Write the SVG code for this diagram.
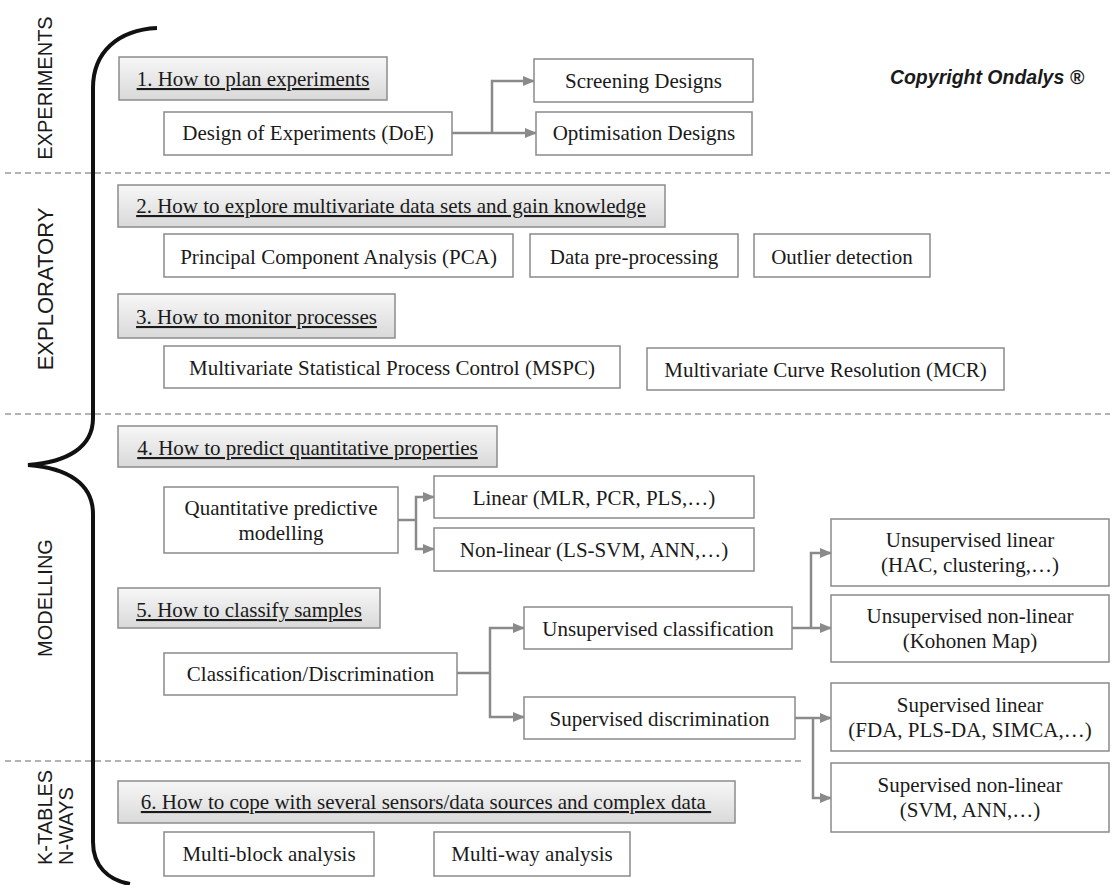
<svg xmlns="http://www.w3.org/2000/svg" width="1112" height="885" viewBox="0 0 1112 885">
<defs>
<linearGradient id="hg" x1="0" y1="0" x2="0" y2="1">
<stop offset="0" stop-color="#f7f7f7"/>
<stop offset="1" stop-color="#d9d9d9"/>
</linearGradient>
<marker id="ah" viewBox="0 0 12 10" refX="11" refY="5" markerWidth="12" markerHeight="10" markerUnits="userSpaceOnUse" orient="auto">
<path d="M0,0 L12,5 L0,10 z" fill="#8a8a8a"/>
</marker>
<style>
.hdr{fill:url(#hg);stroke:#8c8c8c;stroke-width:1.5}
.box{fill:#fff;stroke:#8a8a8a;stroke-width:1.5}
.t{font-family:"Liberation Serif","Times New Roman",serif;font-size:21px;fill:#1a1a1a;text-anchor:middle}
.u{text-decoration:underline}
.sec{font-family:"Liberation Sans",Arial,sans-serif;font-size:20px;fill:#1a1a1a}
.dash{stroke:#9a9a9a;stroke-width:1.5;stroke-dasharray:6 4;fill:none}
.con{stroke:#8a8a8a;stroke-width:2.5;fill:none}
.arr{stroke:#8a8a8a;stroke-width:2.5;fill:none;marker-end:url(#ah)}
</style>
</defs>
<rect width="1112" height="885" fill="#fff"/>

<g id="separators">
<line class="dash" x1="5" y1="173" x2="1110" y2="173"/>
<line class="dash" x1="5" y1="414" x2="1110" y2="414"/>
<line class="dash" x1="5" y1="761" x2="805" y2="761"/>
</g>

<g id="brace">
<path d="M157,28 C118,30 93,52 93,88 L93,418 C93,447 68,462 28,465 C68,468 93,484 93,514 L93,842 C93,866 108,880 130,884" fill="none" stroke="#111" stroke-width="4"/>
</g>

<g id="section-labels">
<text class="sec" transform="translate(52,88) rotate(-90)" text-anchor="middle" font-size="21">EXPERIMENTS</text>
<text class="sec" transform="translate(53,289) rotate(-90)" text-anchor="middle" style="font-size:22px">EXPLORATORY</text>
<text class="sec" transform="translate(52,598) rotate(-90)" text-anchor="middle">MODELLING</text>
<text class="sec" transform="translate(52,865) rotate(-90)">K-TABLES</text>
<text class="sec" transform="translate(73,865) rotate(-90)">N-WAYS</text>
</g>

<g id="copyright">
<text x="987" y="84" text-anchor="middle" font-family="'Liberation Sans',Arial,sans-serif" font-size="19.5" font-style="italic" font-weight="bold" fill="#1a1a1a">Copyright Ondalys ®</text>
</g>

<g id="connectors">
<path class="con" d="M452,133 H492"/>
<path class="arr" d="M492,133 V81 H534"/>
<path class="arr" d="M492,133 H536"/>
<path class="con" d="M398,520 H416"/>
<path class="arr" d="M416,520 V497 H434"/>
<path class="arr" d="M416,520 V549 H434"/>
<path class="con" d="M457,673 H490"/>
<path class="arr" d="M490,673 V628 H524"/>
<path class="arr" d="M490,673 V717 H524"/>
<path class="con" d="M792,628 H811"/>
<path class="arr" d="M811,628 V553 H831"/>
<path class="arr" d="M811,628 H831"/>
<path class="con" d="M795,718 H813"/>
<path class="arr" d="M813,718 H831"/>
<path class="arr" d="M813,718 V798 H831"/>
</g>

<g id="h1"><rect class="hdr" x="119" y="57" width="268" height="43"/><text class="t u" x="253" y="86">1. How to plan experiments</text></g>
<g id="doe"><rect class="box" x="164" y="112" width="288" height="43"/><text class="t" x="308" y="140">Design of Experiments (DoE)</text></g>
<g id="screening"><rect class="box" x="534" y="59" width="219" height="43"/><text class="t" x="643.5" y="88">Screening Designs</text></g>
<g id="optimisation"><rect class="box" x="536" y="112" width="216" height="43"/><text class="t" x="644" y="140">Optimisation Designs</text></g>

<g id="h2"><rect class="hdr" x="118" y="185" width="547" height="42"/><text class="t u" x="391" y="213">2. How to explore multivariate data sets and gain knowledge</text></g>
<g id="pca"><rect class="box" x="164" y="234" width="349" height="43"/><text class="t" x="338.5" y="264">Principal Component Analysis (PCA)</text></g>
<g id="preproc"><rect class="box" x="530" y="234" width="208" height="43"/><text class="t" x="634" y="264">Data pre-processing</text></g>
<g id="outlier"><rect class="box" x="754" y="234" width="176" height="43"/><text class="t" x="842" y="264">Outlier detection</text></g>

<g id="h3"><rect class="hdr" x="118" y="294" width="277" height="44"/><text class="t u" x="256.5" y="324">3. How to monitor processes</text></g>
<g id="mspc"><rect class="box" x="164" y="346" width="456" height="42"/><text class="t" x="392" y="375">Multivariate Statistical Process Control (MSPC)</text></g>
<g id="mcr"><rect class="box" x="647" y="348" width="357" height="42"/><text class="t" x="825.5" y="377">Multivariate Curve Resolution (MCR)</text></g>

<g id="h4"><rect class="hdr" x="118" y="426" width="379" height="41"/><text class="t u" x="307.5" y="455">4. How to predict quantitative properties</text></g>
<g id="qpm"><rect class="box" x="164" y="487" width="234" height="66"/><text class="t" x="281" y="515">Quantitative predictive</text><text class="t" x="281" y="540">modelling</text></g>
<g id="linear"><rect class="box" x="434" y="476" width="320" height="42"/><text class="t" x="594" y="505">Linear (MLR, PCR, PLS,…)</text></g>
<g id="nonlinear"><rect class="box" x="434" y="528" width="320" height="43"/><text class="t" x="594" y="557">Non-linear (LS-SVM, ANN,…)</text></g>

<g id="h5"><rect class="hdr" x="118" y="588" width="262" height="40"/><text class="t u" x="249" y="617">5. How to classify samples</text></g>
<g id="classdisc"><rect class="box" x="164" y="653" width="293" height="42"/><text class="t" x="310.5" y="681">Classification/Discrimination</text></g>
<g id="unsupclass"><rect class="box" x="524" y="607" width="268" height="42"/><text class="t" x="658" y="636">Unsupervised classification</text></g>
<g id="supdisc"><rect class="box" x="524" y="697" width="271" height="42"/><text class="t" x="659.5" y="726">Supervised discrimination</text></g>
<g id="unsuplin"><rect class="box" x="831" y="519" width="278" height="67"/><text class="t" x="970" y="547">Unsupervised linear</text><text class="t" x="970" y="572">(HAC, clustering,…)</text></g>
<g id="unsupnonlin"><rect class="box" x="831" y="595" width="278" height="67"/><text class="t" x="970" y="623">Unsupervised non-linear</text><text class="t" x="970" y="648">(Kohonen Map)</text></g>
<g id="suplin"><rect class="box" x="831" y="683" width="278" height="68"/><text class="t" x="970" y="712">Supervised linear</text><text class="t" x="970" y="737">(FDA, PLS-DA, SIMCA,…)</text></g>
<g id="supnonlin"><rect class="box" x="831" y="763" width="278" height="69"/><text class="t" x="970" y="792">Supervised non-linear</text><text class="t" x="970" y="817">(SVM, ANN,…)</text></g>

<g id="h6"><rect class="hdr" x="118" y="781" width="617" height="42"/><text class="t u" x="426" y="809">6. How to cope with several sensors/data sources and complex data&#160;</text></g>
<g id="multiblock"><rect class="box" x="164" y="832" width="210" height="44"/><text class="t" x="269" y="861">Multi-block analysis</text></g>
<g id="multiway"><rect class="box" x="434" y="832" width="196" height="44"/><text class="t" x="532" y="861">Multi-way analysis</text></g>
</svg>
